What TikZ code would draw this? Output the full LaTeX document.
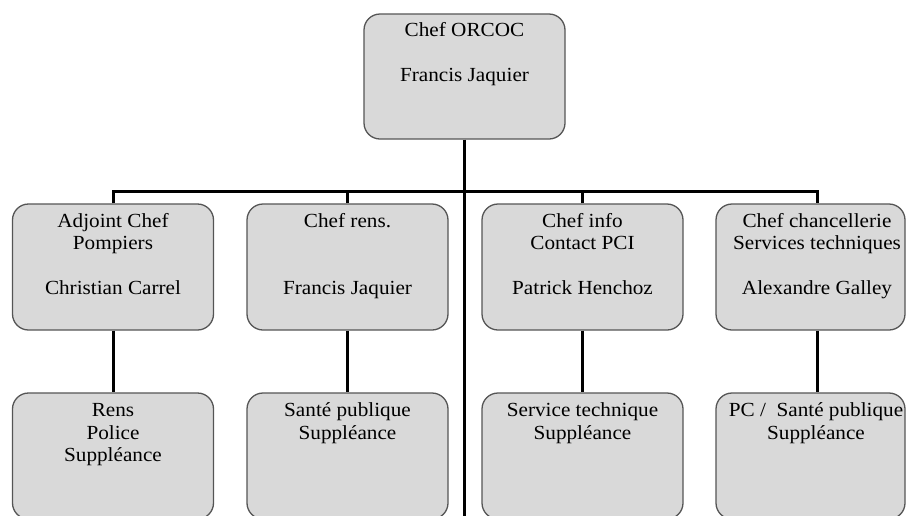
\documentclass[tikz,border=0pt]{standalone}
\usepackage{fontspec}
\setmainfont{Liberation Serif}[FakeStretch=1.06]
\definecolor{boxfill}{RGB}{217,217,217}
\definecolor{boxline}{RGB}{85,85,85}
\newcommand\myfirststrut{\rule{0pt}{14pt}}
\tikzset{
  orgbox/.style={draw=boxline, line width=1.3pt, fill=boxfill, rounded corners=16pt,
    minimum width=201pt, minimum height=126pt, inner sep=0pt},
  lbl/.style={align=center, inner sep=0pt, anchor=north, font=\fontsize{20}{22.5}\selectfont},
  conn/.style={draw=black, line width=3pt},
}
\begin{document}
\begin{tikzpicture}[x=1pt,y=-1pt]
\useasboundingbox (0,0) rectangle (906,515);
\clip (0,0) rectangle (906,515);
% boxes
\node[orgbox, minimum height=125pt] (top) at (464.5,76.5) {};
\node[orgbox] (m1) at (113,267) {};
\node[orgbox] (m2) at (347.5,267) {};
\node[orgbox] (m3) at (582.5,267) {};
\node[orgbox, minimum width=189pt] (m4) at (810.5,267) {};
\node[orgbox] (b1) at (113,456) {};
\node[orgbox] (b2) at (347.5,456) {};
\node[orgbox] (b3) at (582.5,456) {};
\node[orgbox, minimum width=189pt] (b4) at (810.5,456) {};
% connectors
\coordinate (bus) at (465,191);
\coordinate (vend) at (465,525);
\draw[conn] (top.south) -- (top.south |- vend);
\draw[conn] (m1.north) -- (m1.north |- bus) -- ([xshift=6.5pt]m4.north |- bus) -- ([xshift=6.5pt]m4.north);
\draw[conn] (m2.north) -- (m2.north |- bus);
\draw[conn] (m3.north) -- (m3.north |- bus);
\draw[conn] (m1.south) -- (b1.north);
\draw[conn] (m2.south) -- (b2.north);
\draw[conn] (m3.south) -- (b3.north);
\draw[conn] ([xshift=6.5pt]m4.south) -- ([xshift=6.5pt]b4.north);
% texts
\node[lbl] (t0) at (464.5,22.5) {\myfirststrut Chef ORCOC\\[22.5pt]Francis Jaquier};
\node[lbl] (t1) at (113,213) {\myfirststrut Adjoint Chef\\Pompiers\\[22.5pt]Christian Carrel};
\node[lbl] (t2) at (347.5,213) {\myfirststrut Chef rens.\\[45pt]Francis Jaquier};
\node[lbl] (t3) at (582.5,213) {\myfirststrut Chef info\\Contact PCI\\[22.5pt]Patrick Henchoz};
\node[lbl] (t4) at (817,213) {\myfirststrut Chef chancellerie\\Services techniques\\[22.5pt]Alexandre Galley};
\node[lbl] (u1) at (113,402.5) {\myfirststrut Rens\\Police\\Suppléance};
\node[lbl] (u2) at (347.5,402.5) {\myfirststrut Santé publique\\Suppléance};
\node[lbl] (u3) at (582.5,402.5) {\myfirststrut Service technique\\Suppléance};
\node[lbl] (u4) at (816,402.5) {\myfirststrut PC /\ \ Santé publique\\Suppléance};
\end{tikzpicture}
\end{document}
